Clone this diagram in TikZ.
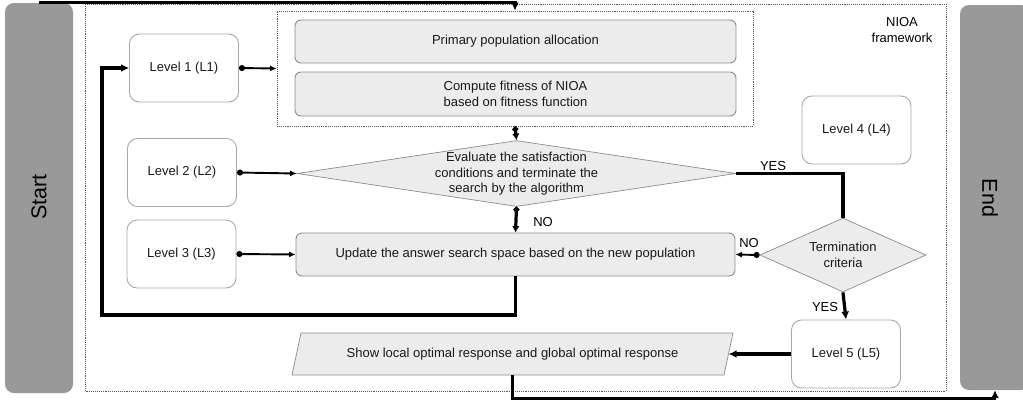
\documentclass[tikz,border=0pt]{standalone}
\usepackage{fontspec}
\setmainfont{Liberation Sans}
\usetikzlibrary{shapes.geometric,arrows.meta,backgrounds}
\definecolor{boxfill}{HTML}{ECECEC}
\definecolor{boxline}{HTML}{8C8C8C}
\definecolor{lvline}{HTML}{A8A8A8}
\definecolor{termfill}{HTML}{999999}
\definecolor{framecol}{HTML}{555555}
\tikzset{
  txt/.style={font=\fontsize{13}{15.5}\selectfont, align=center, text=black!90},
  lvl/.style={txt, rectangle, rounded corners=10pt, draw=lvline, line width=0.9pt,
              fill=white, minimum width=109pt, minimum height=68pt, inner sep=0pt},
  proc/.style={txt, rectangle, rounded corners=6pt, draw=boxline, line width=0.9pt,
               fill=boxfill, minimum width=440pt, inner sep=0pt},
  dec/.style={txt, diamond, draw=boxline, line width=0.7pt, fill=boxfill, inner sep=0pt},
  term/.style={rectangle, rounded corners=9pt, fill=termfill, inner sep=0pt},
  termtxt/.style={font=\fontsize{21.5}{24}\selectfont, text=black},
  lbl/.style={font=\fontsize{13}{15}\selectfont, text=black, inner sep=0pt},
  flow/.style={line width=3.2pt, -{Latex[length=8pt,width=8pt]}},
  dotflow/.style={line width=3.2pt, {Circle[length=5.5pt]}-{Latex[length=6.5pt,width=7.5pt]}},
  link/.style={line width=1.9pt, {Circle[length=6pt]}-{Latex[length=6.5pt,width=6pt]}},
  frame/.style={densely dotted, draw=framecol, line width=0.9pt},
}
\begin{document}
\begin{tikzpicture}[x=1pt,y=-1pt]
\useasboundingbox (0,0) rectangle (1023,400);

% start / end bars
\node[term, minimum width=68pt, minimum height=390pt] (startbox) at (39,198) {};
\node[termtxt, rotate=90] (starttxt) at (39,197) {Start};
\node[term, minimum width=70pt, minimum height=385pt] (endbox) at (995,197.5) {};
\node[termtxt, rotate=-90] (endtxt) at (990,198) {End};

% framework outline
\draw[frame] (85,4) rectangle (946,391);
\node[lbl, align=center, font=\fontsize{13}{16}\selectfont] (fwlabel) at (902,30) {NIOA\\framework};

% initialisation block
\node[frame, rectangle, minimum width=476pt, minimum height=115pt, inner sep=0pt] (inner) at (515,68.5) {};
\node[proc, minimum width=441pt, minimum height=43pt] (alloc) at (515.5,41.5) {Primary population allocation};
\node[proc, minimum width=441pt, minimum height=44pt] (fitness) at (515.5,94) {Compute fitness of NIOA\\based on fitness function};

% level boxes
\node[lvl] (L1) at (184,68) {Level 1 (L1)};
\node[lvl] (L2) at (182,172.5) {Level 2 (L2)};
\node[lvl] (L3) at (181.5,254) {Level 3 (L3)};
\node[lvl] (L4) at (856.5,130) {Level 4 (L4)};
\node[lvl] (L5) at (846,354) {Level 5 (L5)};

% decisions and updates
\node[dec, minimum width=439pt, minimum height=66pt] (eval) at (516.5,173.5) {};
\node[txt, inner sep=0pt] (evaltxt) at (516.5,174)
  {Evaluate the satisfaction\\conditions and terminate the\\search by the algorithm};
\node[proc, minimum width=439pt, minimum height=43pt] (update) at (515.5,254.5)
  {Update the answer search space based on the new population};
\node[dec, aspect=2.2, minimum width=166pt, minimum height=74pt] (crit) at (843,255) {Termination\\criteria};

% output
\node[txt, minimum width=432pt, minimum height=42pt, inner sep=0pt] (show) at (512.5,354)
  {Show local optimal response and global optimal response};
\begin{scope}[on background layer]
  \draw[fill=boxfill, draw=boxline, line width=0.7pt]
    (292,375) -- (301,333) -- (733,333) -- (724,375) -- cycle;
\end{scope}

% connectors
\draw[flow] (startbox.north) -| (inner.north);
\draw[link] (L1.east) -- (inner.west);
\draw[link] (L2.east) -- (eval.west);
\draw[link] (L3.east) -- (update.west);
\draw[dotflow] (inner.south) -- (eval.north);
\draw[dotflow] (eval.south) -- (update.north);
\node[lbl] (nolbl1) at (543,222) {NO};
\draw[line width=3.2pt] (eval.east) -| (crit.north);
\node[lbl] (yeslbl1) at (773,166) {YES};
\draw[link] (crit.west) -- (update.east);
\node[lbl] (nolbl2) at (749,243.5) {NO};
\draw[flow] (crit.south) -- (L5.north);
\node[lbl] (yeslbl2) at (825,307) {YES};
\draw[flow] (L5.west) -- (show.east);
\coordinate (loopc) at (102,315);
\draw[flow] (update.south) |- (loopc) |- (L1.west);
\draw[line width=2.8pt, -{Latex[length=8pt,width=8pt]}] (show.south) -- ++(0,23) -| (endbox.south);
\end{tikzpicture}
\end{document}
